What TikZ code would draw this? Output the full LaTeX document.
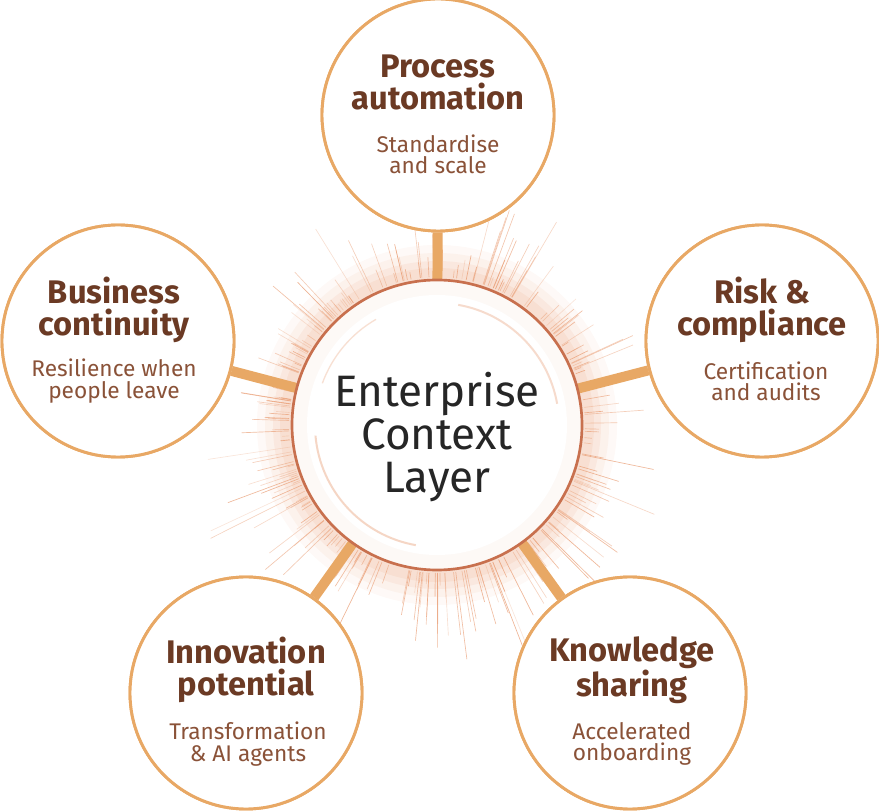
\documentclass[tikz,border=0pt]{standalone}
\usepackage{fontspec}
\usetikzlibrary{calc}
\setmainfont{Fira Sans}
\begin{document}
\begin{tikzpicture}[x=0.75pt,y=-0.75pt,
  sat/.style={circle,draw=ring,line width=2.2pt,fill=white,minimum size=174pt,inner sep=0pt},
  ttl/.style={font=\fontsize{24.5}{24}\selectfont\bfseries,text=ttlc,align=center},
  sub/.style={font=\fontsize{17}{16}\selectfont,text=subc,align=center},
  bar/.style={draw=ring,line width=7.5pt}]
\definecolor{ring}{HTML}{E8A865}
\definecolor{ttlc}{HTML}{6B3A24}
\definecolor{subc}{HTML}{8A5238}
\definecolor{core}{HTML}{C8704E}
\definecolor{ray}{HTML}{E89A70}
\useasboundingbox (0,0) rectangle (879,812);
\coordinate (c) at (437,425);
% glow
\foreach \r/\o in {180/0.06,172/0.08,164/0.1,157/0.12}{
  \fill[ray,opacity=\o] (c) circle (\r);}
% rays
\pgfmathsetseed{7}
\foreach \i in {1,...,260}{
  \pgfmathsetmacro{\a}{rnd*360}
  \pgfmathsetmacro{\l}{155+rnd*rnd*110}
  \pgfmathsetmacro{\op}{0.25+rnd*0.5}
  \draw[ray,opacity=\op,line width=0.5pt] ($(c)+(\a:148)$) -- ($(c)+(\a:\l)$);
}
% connectors
\node[sat] (top) at (438,115) {};
\node[sat] (lft) at (118,341) {};
\node[sat] (rgt) at (762,341) {};
\node[sat] (bl) at (246,693) {};
\node[sat] (br) at (630,693) {};
\node[circle,minimum size=217pt,inner sep=0pt] (core) at (c) {};
\foreach \s in {top,lft,rgt,bl,br}{
  \draw[bar] (core) -- (\s);}
\foreach \s in {top,lft,rgt,bl,br}{
  \node[sat] at (\s) {};}
% core circle
\fill[white] (c) circle (145);
\fill[ray,opacity=0.06] (c) circle (145);
\fill[white] (c) circle (130);
\draw[core,line width=2pt] (c) circle (145);
\draw[ray,opacity=0.4,line width=1.5pt] ($(c)+(100:122)$) arc (100:175:122);
\draw[ray,opacity=0.35,line width=1.5pt] ($(c)+(-10:122)$) arc (-10:-80:122);
\draw[ray,opacity=0.3,line width=1pt] ($(c)+(200:122)$) arc (200:240:122);
\node[font=\fontsize{33}{32}\selectfont,text=black!85,align=center] (ctxt) at (437,437) {Enterprise\\Context\\Layer};
% texts
\node[ttl] (t1) at (438,82) {Process\\automation};
\node[sub] (s1) at (438,154) {Standardise\\and scale};
\node[ttl] (t2) at (114,310) {Business\\continuity};
\node[sub] (s2) at (114,381) {Resilience when\\people leave};
\node[ttl] (t3) at (762,310) {Risk \&\\compliance};
\node[sub] (s3) at (766,381) {Certification\\and audits};
\node[ttl] (t4) at (246,670) {Innovation\\potential};
\node[sub] (s4) at (248,744) {Transformation\\\& AI agents};
\node[ttl] (t5) at (632,670) {Knowledge\\sharing};
\node[sub] (s5) at (632,744) {Accelerated\\onboarding};
\end{tikzpicture}
\end{document}
